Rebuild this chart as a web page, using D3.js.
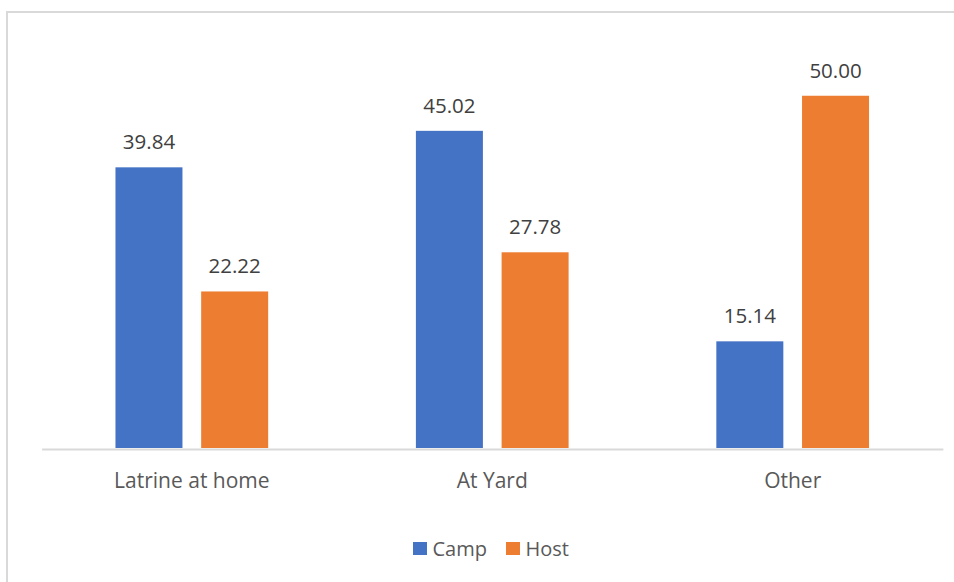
<!DOCTYPE html>
<html>
<head>
<meta charset="utf-8">
<script src="https://cdn.jsdelivr.net/npm/d3@7"></script>
<style>
  html, body { margin: 0; padding: 0; background: #fff; }
  svg { display: block; font-family: "Open Sans", sans-serif; }
</style>
</head>
<body>
<svg id="chart" width="954" height="582"></svg>
<script>
const categories = ["Latrine at home", "At Yard", "Other"];
const seriesNames = ["Camp", "Host"];
const campValues = [39.84, 45.02, 15.14];
const hostValues = [22.22, 27.78, 50.00];
const seriesColors = ["#4472C4", "#ED7D31"];

const svg = d3.select("#chart");
const W = 954, H = 582;

// chart frame (extends beyond the picture at right/bottom)
svg.append("rect")
  .attr("x", 7).attr("y", 12)
  .attr("width", W + 10).attr("height", H + 10)
  .attr("fill", "#fff")
  .attr("stroke", "#d9d9d9").attr("stroke-width", 2);

const plotLeft = 41.6, plotRight = 942.9;
const baseY = 448, perUnit = 7.045;
const yMax = 60;

const x0 = d3.scaleBand().domain(categories).range([plotLeft, plotRight]).paddingInner(0).paddingOuter(0);
const y = d3.scaleLinear().domain([0, yMax]).range([baseY, baseY - yMax * perUnit]);

const barW = 67, barGap = 18.7;
const x1 = d3.scaleOrdinal().domain(seriesNames)
  .range([-(barW + barGap / 2), barGap / 2]);

const data = categories.map((c, i) => ({
  cat: c,
  vals: [
    { s: "Camp", v: campValues[i], color: seriesColors[0] },
    { s: "Host", v: hostValues[i], color: seriesColors[1] }
  ]
}));

const groups = svg.selectAll("g.grp").data(data).enter().append("g")
  .attr("class", "grp")
  .attr("transform", d => `translate(${x0(d.cat) + x0.bandwidth() / 2},0)`);

groups.selectAll("rect").data(d => d.vals).enter().append("rect")
  .attr("x", d => x1(d.s))
  .attr("width", barW)
  .attr("y", d => y(d.v))
  .attr("height", d => y(0) - y(d.v))
  .attr("fill", d => d.color);

groups.selectAll("text.val").data(d => d.vals).enter().append("text")
  .attr("class", "val")
  .attr("x", d => x1(d.s) + barW / 2)
  .attr("y", d => y(d.v) - 18)
  .attr("text-anchor", "middle")
  .attr("font-size", 20.5)
  .attr("fill", "#404040")
  .text(d => d.v.toFixed(2));

// baseline axis
const xAxis = d3.axisBottom(x0).tickSize(0).tickPadding(0);
const axisG = svg.append("g").attr("transform", `translate(0,${baseY + 1})`).call(xAxis);
axisG.select(".domain").attr("stroke", "#d9d9d9").attr("stroke-width", 2);
axisG.selectAll(".tick text")
  .attr("font-size", 21)
  .attr("font-family", "Open Sans, sans-serif")
  .attr("fill", "#595959")
  .attr("dy", 0)
  .attr("y", 38.5);

// legend
const legendItems = [
  { name: "Camp", color: seriesColors[0], x: 413 },
  { name: "Host", color: seriesColors[1], x: 506 }
];
const lg = svg.append("g");
legendItems.forEach(it => {
  lg.append("rect").attr("x", it.x).attr("y", 542).attr("width", 14).attr("height", 13).attr("fill", it.color);
  lg.append("text").attr("x", it.x + 19.5).attr("y", 555.5)
    .attr("font-size", 20).attr("fill", "#595959").text(it.name);
});
</script>
</body>
</html>
